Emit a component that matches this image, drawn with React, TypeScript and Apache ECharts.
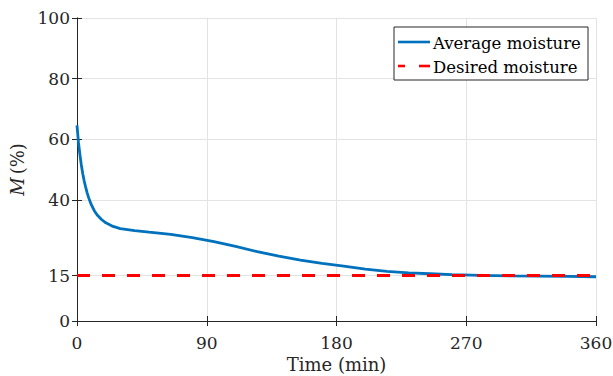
import React, { useEffect, useRef } from "react";
import * as echarts from "echarts";

const timeMin = [0, 1, 2, 3, 4, 5, 6, 7, 8, 9, 10, 12, 14, 17, 20, 25, 30, 40, 50, 65, 80, 95, 110, 125, 140, 155, 170, 185, 200, 215, 230, 245, 260, 280, 300, 320, 340, 360];
const avgMoisture = [64.6, 59.0, 55.0, 51.5, 48.6, 46.2, 44.2, 42.4, 40.8, 39.5, 38.3, 36.4, 35.0, 33.5, 32.4, 31.2, 30.5, 29.8, 29.3, 28.6, 27.5, 26.2, 24.6, 22.9, 21.4, 20.1, 19.0, 18.1, 17.1, 16.4, 15.9, 15.6, 15.3, 15.05, 14.9, 14.8, 14.7, 14.6];
const desiredTime = [0, 360];
const desiredMoisture = [15, 15];
const yTicks = [0, 15, 40, 60, 80, 100];
const seriesNames = ["Average moisture", "Desired moisture"];

const FONT = "DejaVu Serif";
const AX = "#262626";
const BLUE = "#0072BD";
const RED = "#FF0000";
const FS_TICK = 17;
const FS_NAME = 18;
const FS_LEG = 16.5;

export default function App() {
  const ref = useRef<HTMLDivElement>(null);
  useEffect(() => {
    const chart = echarts.init(ref.current!, null, { renderer: "svg" });
    const baseX = {
      type: "value",
      min: 0,
      max: 360,
      interval: 90,
      axisLine: { show: true, lineStyle: { color: AX, width: 1 } },
      axisTick: { show: true, inside: true, length: 5, lineStyle: { color: AX } },
    };
    const baseY = {
      type: "value",
      min: 0,
      max: 100,
      axisLine: { show: true, lineStyle: { color: AX, width: 1 } },
      axisTick: { show: true, inside: true, length: 5, customValues: yTicks, lineStyle: { color: AX } },
    };
    const lx = 394, ly = 27, lw = 194, lh = 53;
    chart.setOption({
      animation: false,
      backgroundColor: "#fff",
      textStyle: { fontFamily: FONT },
      grid: { left: 77, right: 17, top: 18, bottom: 55, outerBoundsMode: "none", containLabel: false },
      xAxis: [
        {
          ...baseX,
          position: "bottom",
          name: "Time (min)",
          nameLocation: "middle",
          nameGap: 34,
          nameTextStyle: { fontFamily: FONT, fontSize: FS_NAME, color: AX },
          axisLabel: { fontFamily: FONT, fontSize: FS_TICK, color: AX, margin: 13 },
          splitLine: { show: true, lineStyle: { color: "#e3e3e3", width: 1 } },
        },
        {
          ...baseX,
          position: "top",
          axisLabel: { show: false },
          splitLine: { show: false },
        },
      ],
      yAxis: [
        {
          ...baseY,
          position: "left",
          name: "{i|M}{n|(%)}",
          nameLocation: "middle",
          nameRotate: 90,
          nameGap: 41,
          nameTextStyle: {
            fontFamily: FONT,
            fontSize: FS_NAME,
            color: AX,
            rich: {
              i: { fontFamily: FONT, fontSize: FS_NAME, fontStyle: "italic", color: AX, padding: [0, 3, 0, 0] },
              n: { fontFamily: FONT, fontSize: FS_NAME, color: AX },
            },
          },
          axisLabel: { fontFamily: FONT, fontSize: FS_TICK, color: AX, margin: 7, customValues: yTicks },
          splitLine: { show: true, lineStyle: { color: "#e3e3e3", width: 1 } },
        },
        {
          ...baseY,
          position: "right",
          axisLabel: { show: false },
          splitLine: { show: false },
        },
      ],
      graphic: [
        {
          type: "rect",
          shape: { x: lx, y: ly, width: lw, height: lh },
          style: { fill: "#fff", stroke: AX, lineWidth: 1 },
          z: 100,
        },
        {
          type: "line",
          shape: { x1: lx + 4, y1: ly + 15, x2: lx + 36, y2: ly + 15 },
          style: { stroke: BLUE, lineWidth: 2.6 },
          z: 101,
        },
        {
          type: "line",
          shape: { x1: lx + 4, y1: ly + 39, x2: lx + 11, y2: ly + 39 },
          style: { stroke: RED, lineWidth: 2.6 },
          z: 101,
        },
        {
          type: "line",
          shape: { x1: lx + 25, y1: ly + 39, x2: lx + 36, y2: ly + 39 },
          style: { stroke: RED, lineWidth: 2.6 },
          z: 101,
        },
        {
          type: "text",
          x: lx + 39,
          y: ly + 16,
          style: { text: seriesNames[0], fontFamily: FONT, fontSize: FS_LEG, fill: "#000", verticalAlign: "middle" },
          z: 101,
        },
        {
          type: "text",
          x: lx + 39,
          y: ly + 40,
          style: { text: seriesNames[1], fontFamily: FONT, fontSize: FS_LEG, fill: "#000", verticalAlign: "middle" },
          z: 101,
        },
      ],
      series: [
        {
          name: seriesNames[0],
          type: "line",
          data: timeMin.map((t, i) => [t, avgMoisture[i]]),
          smooth: false,
          showSymbol: false,
          symbol: "none",
          lineStyle: { color: BLUE, width: 2.8 },
          z: 3,
        },
        {
          name: seriesNames[1],
          type: "line",
          data: desiredTime.map((t, i) => [t, desiredMoisture[i]]),
          showSymbol: false,
          symbol: "none",
          lineStyle: { color: RED, width: 3, type: [13, 12] },
          z: 4,
        },
      ],
    });
    return () => chart.dispose();
  }, []);
  return (
    <div
      ref={ref}
      style={{ position: "absolute", left: 0, top: 0, width: 613, height: 376 }}
    />
  );
}
